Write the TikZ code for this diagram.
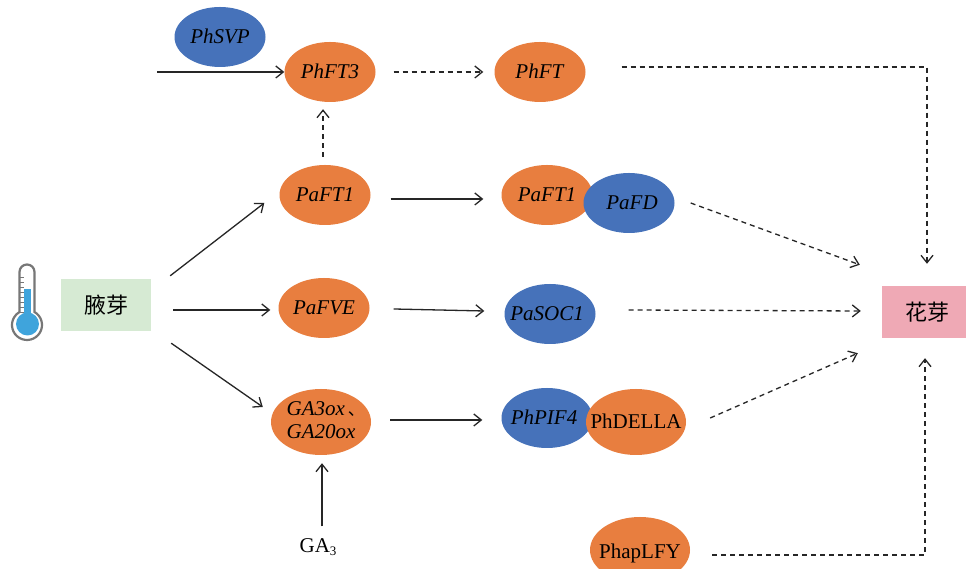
\documentclass[tikz,border=0pt]{standalone}
\usepackage{fontspec}
\setmainfont{Liberation Serif}
\newfontfamily\cjk{Noto Sans CJK SC}
\usetikzlibrary{shapes.geometric,arrows.meta}
\definecolor{orangefill}{HTML}{E87E3F}
\definecolor{bluefill}{HTML}{4672BA}
\definecolor{budgreen}{HTML}{D6EAD3}
\definecolor{flowerpink}{HTML}{EFA9B5}
\definecolor{inkline}{HTML}{262626}
\definecolor{thermgray}{HTML}{777777}
\definecolor{thermblue}{HTML}{3FA4DC}
\newcommand{\lbl}[2][0pt]{\makebox[0pt]{\hspace*{#1}\raisebox{-.33em}[0pt][0pt]{#2}}}
\newcommand{\lbltwo}[2]{\makebox[0pt]{\raisebox{-.25em}[0pt][0pt]{\begin{tabular}{@{}l@{}}#1\\[-1pt]#2\end{tabular}}}}
\tikzset{
  gene/.style={ellipse,inner sep=0pt,draw=none,minimum width=91pt,minimum height=60pt,font=\fontsize{21}{24}\selectfont},
  orangegene/.style={gene,fill=orangefill},
  bluegene/.style={gene,fill=bluefill},
  widegene/.style={minimum width=100pt,minimum height=66pt},
  tissue/.style={rectangle,inner sep=0pt,draw=none,font=\cjk\fontsize{22}{24}\selectfont},
  solidarrow/.style={draw=inkline,line width=1.3pt,-{Straight Barb[length=7.5pt,width=12pt,line width=1.3pt]}},
  dasharrow/.style={solidarrow,dash pattern=on 5pt off 4pt},
}
\begin{document}
\begin{tikzpicture}[x=1pt,y=1pt]
\clip (0,0) rectangle (966,569);
\fill[white] (0,0) rectangle (966,569);
% thermometer
\draw[thermgray,fill=white,line width=2.2pt] (19.5,245) ++(0,12) -- (19.5,297) arc[start angle=180,end angle=0,radius=7.5] -- (34.5,257) arc[start angle=60,end angle=-240,radius=15] -- cycle;
\fill[thermblue] (24,250) rectangle (31,280);
\fill[thermblue] (27.5,245) circle[radius=11.5];
\foreach \ty in {257,262,...,295} \draw[thermgray,line width=.9pt] (20,\ty) -- (24,\ty);
% nodes
\node[bluegene] (PhSVP) at (220,532) {\lbl{\textit{PhSVP}}};
\node[orangegene] (PhFTthree) at (330,497) {\lbl{\textit{PhFT3}}};
\node[orangegene] (PhFT) at (540,497) {\lbl{\textit{PhFT}}};
\node[orangegene] (PaFTa) at (325,374) {\lbl{\textit{PaFT1}}};
\node[orangegene] (PaFTb) at (547,374) {\lbl{\textit{PaFT1}}};
\node[bluegene] (PaFD) at (629,366) {\lbl[6pt]{\textit{PaFD}}};
\node[tissue,fill=budgreen,minimum width=90pt,minimum height=52pt] (bud) at (106,264) {腋芽};
\node[orangegene] (PaFVE) at (324,261) {\lbl{\textit{PaFVE}}};
\node[bluegene] (PaSOC) at (550,255) {\lbl[-6pt]{\textit{PaSOC1}}};
\node[orangegene,widegene] (GA) at (321,147) {\lbltwo{\textit{GA3ox}\rlap{\hspace{3pt}\cjk\fontsize{17}{20}\selectfont 、}}{\textit{GA20ox}}};
\node[bluegene] (PhPIF) at (547,151) {\lbl[-6pt]{\textit{PhPIF4}}};
\node[orangegene,widegene] (PhDELLA) at (636,147) {\lbl{PhDELLA}};
\node[orangegene,widegene] (PhapLFY) at (640,19) {\lbl{\raisebox{-2pt}{PhapLFY}}};
\node[tissue,fill=flowerpink,minimum width=84pt,minimum height=52pt] (flower) at (924,257) {\hspace*{6pt}花芽};
\node[inner sep=0pt,font=\fontsize{21}{24}\selectfont] (GAthree) at (318,22) {GA\raisebox{-3pt}{\fontsize{13}{14}\selectfont 3}};
\coordinate (svpstart) at (157,497);
% connectors
\draw[solidarrow] (svpstart) -- (PhFTthree.west);
\draw[dasharrow] ([shift={(18,0)}]PhFTthree.east) -- ([shift={(-11,0)}]PhFT.west);
\draw[dasharrow] ([shift={(-2,8)}]PaFTa.north) -- ([shift={(-7,-7)}]PhFTthree.south);
\draw[dasharrow] ([shift={(36,5)}]PhFT.east) -| ([shift={(3,22)}]flower.north);
\draw[solidarrow] ([shift={(19,3)}]bud.north east) -- ([shift={(-15,-8)}]PaFTa.west);
\draw[solidarrow] ([shift={(22,-5)}]bud.east) -- ([shift={(-8,-2)}]PaFVE.west);
\draw[solidarrow] ([shift={(20,-12)}]bud.south east) -- ([shift={(-8,15)}]GA.west);
\draw[solidarrow] ([shift={(20,-4)}]PaFTa.east) -- ([shift={(-18,-4)}]PaFTb.west);
\draw[solidarrow] ([shift={(24,-1)}]PaFVE.east) -- ([shift={(-20,3)}]PaSOC.west);
\draw[solidarrow] ([shift={(19,2)}]GA.east) -- ([shift={(-19,-2)}]PhPIF.west);
\draw[solidarrow] ([shift={(4,12)}]GAthree.north) -- ([shift={(1,-8)}]GA.south);
\draw[dasharrow] ([shift={(16,0)}]PaFD.east) -- ([shift={(-22,21)}]flower.north west);
\draw[dasharrow] ([shift={(33,4)}]PaSOC.east) -- ([shift={(-21,1)}]flower.west);
\draw[dasharrow] ([shift={(24,4)}]PhDELLA.east) -- ([shift={(-24,-15)}]flower.south west);
\draw[dasharrow] ([shift={(22,-5)}]PhapLFY.east) -| ([shift={(1,-20)}]flower.south);
\end{tikzpicture}
\end{document}
